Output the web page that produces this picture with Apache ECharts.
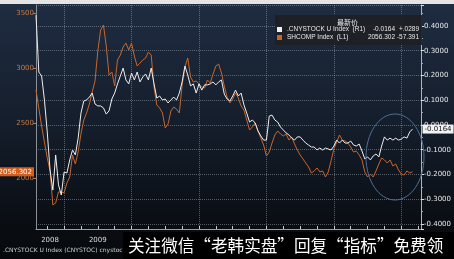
<!DOCTYPE html>
<html><head><meta charset="utf-8">
<script src="https://cdn.jsdelivr.net/npm/echarts@6/dist/echarts.min.js"></script>
<style>html,body{margin:0;padding:0;background:#000;}#c{width:454px;height:259px;}</style>
</head><body><div id="c"></div>
<script>
// semi-monthly periods from 2008-08-01
const startYear = 2008, startMonth = 8, periodCount = 138;
const categories = [];
for (let i = 0; i < periodCount; i++) {
  const m = startMonth - 1 + Math.floor(i / 2);
  const y = startYear + Math.floor(m / 12);
  const mm = m % 12 + 1;
  categories.push(y + '-' + String(mm).padStart(2, '0') + '-' + (i % 2 ? '16' : '01'));
}
const yearLabelDates = ['2008-10-16', '2009-07-01', '2010-07-01', '2011-07-01', '2012-07-01', '2013-07-01'];

const cnyStock = [0.444,0.214,0.198,0.101,-0.028,-0.182,-0.263,-0.121,-0.242,-0.283,
-0.190,-0.194,-0.141,-0.101,-0.121,-0.053,0.048,0.097,0.101,0.113,
0.129,0.085,0.077,0.077,0.069,0.044,0.057,0.105,0.129,0.166,
0.198,0.230,0.182,0.166,0.210,0.182,0.214,0.174,0.194,0.206,
0.182,0.230,0.166,0.109,0.117,0.101,0.105,0.089,0.101,0.113,
0.101,0.129,0.174,0.238,0.202,0.158,0.166,0.129,0.166,0.141,
0.162,0.162,0.166,0.174,0.162,0.174,0.182,0.125,0.105,0.097,
0.117,0.141,0.117,0.129,0.081,0.048,0.012,0.020,0.008,-0.024,
-0.044,-0.061,-0.061,0.036,0.040,0.020,0.012,-0.008,-0.020,-0.032,
-0.040,-0.053,-0.061,-0.048,-0.048,-0.061,-0.073,-0.081,-0.089,-0.089,
-0.101,-0.093,-0.101,-0.093,-0.097,-0.101,-0.085,-0.061,-0.073,-0.061,
-0.073,-0.073,-0.065,-0.081,-0.085,-0.077,-0.105,-0.137,-0.129,-0.141,
-0.125,-0.117,-0.129,-0.085,-0.048,-0.061,-0.053,-0.061,-0.053,-0.061,
-0.057,-0.048,-0.053,-0.028,-0.0164];

const shComp = [2800,2636,2473,2327,2182,2064,1755,1773,1873,1873,
1864,1955,2009,2209,2127,2236,2400,2527,2591,2673,
2782,2882,3155,3345,3391,3200,2936,2964,2836,3073,
3118,3191,3227,3164,3227,3109,3018,3045,3073,3091,
3145,3118,2827,2664,2636,2591,2455,2491,2609,2645,
2627,2591,2845,3009,3091,2918,2873,2882,2855,2827,
2818,2891,2864,2945,3018,3036,2955,2836,2736,2682,
2718,2773,2727,2655,2618,2527,2436,2464,2500,2427,
2364,2300,2200,2236,2318,2391,2427,2400,2382,2400,
2345,2373,2309,2255,2209,2173,2136,2100,2045,2064,
2091,2055,2064,2009,2055,2155,2264,2327,2391,2345,
2336,2318,2282,2236,2245,2209,2164,2055,2009,2036,
2009,2064,2127,2182,2164,2136,2164,2109,2127,2073,
2036,2027,2064,2045,2056.302];

const seriesNames = ['.CNYSTOCK U Index', 'SHCOMP Index'];
const axisTags = ['(R1)', '(L1)'];
const lastValues = ['-0.0164', '2056.302'];
const changes = ['+.0289', '-57.391'];
const legendHeader = '最新价';
const footerText = '.CNYSTOCK U Index (CNYSTOC) cnystock';
const watermark = '关注微信“老韩实盘”回复“指标”免费领';

const chart = echarts.init(document.getElementById('c'), null, {renderer: 'canvas'});
const font = 'DejaVu Sans';
const lfont = 'Liberation Sans';
const gridColor = 'rgba(185,195,205,0.42)';
const legendText = {color: '#e8e8e8', fontSize: 6.5, fontFamily: lfont};

chart.setOption({
  animation: false,
  backgroundColor: {type: 'linear', x: 0, y: 0, x2: 0, y2: 1,
    colorStops: [{offset: 0, color: '#1f2d42'}, {offset: 0.5, color: '#141d2a'}, {offset: 1, color: '#06080b'}]},
  grid: {left: 36, right: 31, top: 5, bottom: 30},
  legend: {
    data: seriesNames, orient: 'vertical', left: 275, top: 15,
    itemWidth: 5, itemHeight: 5, itemGap: 1, icon: 'rect', selectedMode: false,
    padding: [11, 3, 4, 2], backgroundColor: 'rgba(30,31,36,0.92)',
    textStyle: Object.assign({
      rich: {
        a: Object.assign({width: 78}, legendText),
        b: Object.assign({width: 30, align: 'right'}, legendText),
        c: Object.assign({width: 24, align: 'right'}, legendText)
      }}, legendText),
    formatter: name => {
      const i = seriesNames.indexOf(name);
      return '{a|' + name + '  ' + axisTags[i] + '}{b|' + lastValues[i] + '}{c|' + changes[i] + '}';
    }
  },
  xAxis: {
    type: 'category', data: categories, boundaryGap: false,
    axisLine: {show: true, onZero: false, lineStyle: {color: '#9aa0a8'}},
    axisTick: {show: true, inside: true, length: 3, lineStyle: {color: '#c8ccd2'},
      interval: (i, v) => /-(01|04|07|10)-01$/.test(v)},
    axisLabel: {color: '#dcdcdc', fontSize: 7, fontFamily: font, margin: 8,
      interval: (i, v) => yearLabelDates.indexOf(v) >= 0,
      formatter: v => v.slice(0, 4)},
    splitLine: {show: true, interval: (i, v) => /-01-01$/.test(v),
      lineStyle: {color: gridColor, type: 'dotted', width: 1}}
  },
  yAxis: [
    {type: 'value', position: 'left', min: 1536, max: 3573, splitNumber: 4,
      axisLine: {show: true, lineStyle: {color: '#8a9098'}},
      axisTick: {show: true, length: 3, lineStyle: {color: '#c8763a'}},
      axisLabel: {color: '#c47a44', fontSize: 7, fontFamily: font, margin: 2,
        showMinLabel: false, showMaxLabel: false, formatter: v => String(v)},
      splitLine: {show: false}},
    {type: 'value', position: 'right', min: -0.4202, max: 0.4848, splitNumber: 9,
      axisLine: {show: true, lineStyle: {color: '#b0b4ba'}},
      axisTick: {show: true, length: 3, lineStyle: {color: '#dddddd'}},
      minorTick: {show: true, splitNumber: 2, length: 2, lineStyle: {color: '#aaaaaa'}},
      axisLabel: {color: '#e8e8e8', fontSize: 7, fontFamily: font, margin: 3,
        showMinLabel: false, showMaxLabel: false, formatter: v => v.toFixed(4)},
      splitLine: {show: true, lineStyle: {color: gridColor, type: 'dotted', width: 1}}}
  ],
  series: [
    {name: seriesNames[1], type: 'line', yAxisIndex: 0, data: shComp, showSymbol: false,
      lineStyle: {color: '#c8662c', width: 1}, itemStyle: {color: '#c8662c'},
      markLine: {symbol: 'none', silent: true, lineStyle: {color: 'rgba(0,0,0,0)', width: 0},
        data: [{yAxis: shComp[shComp.length - 1]}],
        label: {show: true, position: 'start', formatter: lastValues[1], distance: 2,
          backgroundColor: '#d45f1c', color: '#ffffff', fontSize: 7, fontFamily: font, padding: [1, 2]}}},
    {name: seriesNames[0], type: 'line', yAxisIndex: 1, data: cnyStock, showSymbol: false,
      lineStyle: {color: '#eeeeee', width: 1}, itemStyle: {color: '#f2f2f2'},
      endLabel: {show: true, formatter: () => lastValues[0], distance: 10,
        backgroundColor: '#f2f2f2', color: '#111111', fontSize: 7, fontFamily: font, padding: [1, 2]}}
  ],
  graphic: [
    {type: 'rect', z: 50, shape: {x: 0, y: 0, width: 454, height: 4}, style: {fill: '#e4e4e4'}},
    {type: 'text', z: 50, style: {x: 337, y: 22, text: legendHeader, fill: '#e8e8e8',
      font: '7px "Noto Sans CJK SC"', verticalAlign: 'middle'}},
    {type: 'ellipse', z: 50, shape: {cx: 395, cy: 157, rx: 29, ry: 43},
      style: {fill: 'none', stroke: '#4d6f9c', lineWidth: 1}},
    {type: 'text', z: 50, style: {x: 3, y: 250, text: footerText, fill: '#cfcfcf',
      font: '6px "DejaVu Sans"', verticalAlign: 'middle'}},
    {type: 'rect', z: 100, shape: {x: 123, y: 232, width: 331, height: 27}, style: {fill: '#000000'}},
    {type: 'text', z: 101, style: {x: 128, y: 246, text: watermark, fill: '#ffffff',
      font: '16.6px "Noto Sans CJK SC"', verticalAlign: 'middle'}}
  ]
});
</script></body></html>
